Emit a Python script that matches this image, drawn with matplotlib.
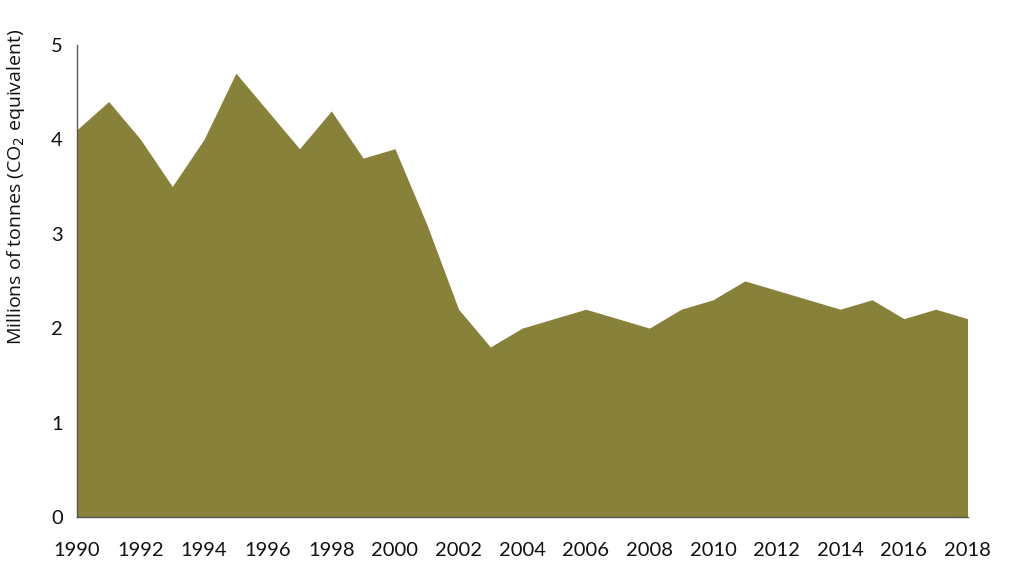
import matplotlib.pyplot as plt

# 排放数据（百万吨二氧化碳当量）
years = list(range(1990, 2019))
emissions = [4.1, 4.4, 4.0, 3.5, 4.0, 4.7, 4.3, 3.9, 4.3, 3.8,
             3.9, 3.1, 2.2, 1.8, 2.0, 2.1, 2.2, 2.1, 2.0, 2.2,
             2.3, 2.5, 2.4, 2.3, 2.2, 2.3, 2.1, 2.2, 2.1]
x_ticks = list(range(1990, 2019, 2))
y_ticks = [0, 1, 2, 3, 4, 5]

plt.rcParams['font.family'] = ['Lato', 'DejaVu Sans']

fig = plt.figure(figsize=(10.11, 5.75), dpi=100)
ax = fig.add_axes([0.076, 0.101, 0.881, 0.821])

ax.fill_between(years, emissions, 0, color='#88813A', linewidth=0)

ax.set_xlim(1990, 2018)
ax.set_ylim(0, 5)
ax.set_xticks(x_ticks)
ax.set_yticks(y_ticks)
ax.tick_params(axis='both', length=0, labelsize=14.5, colors='#111111')
ax.tick_params(axis='x', pad=18)
ax.tick_params(axis='y', pad=10)

ax.set_ylabel('Millions of tonnes (CO$_2$ equivalent)', fontsize=14,
              color='#111111', family=['Open Sans', 'DejaVu Sans'])
ax.yaxis.set_label_coords(-0.056, 0.70)

# 只保留左侧和底部坐标轴
for side in ['top', 'right']:
    ax.spines[side].set_visible(False)
ax.spines['left'].set_color('#555555')
ax.spines['left'].set_linewidth(1)
ax.spines['bottom'].set_color('#555555')
ax.spines['bottom'].set_linewidth(1)

fig.savefig('out.png', dpi=100)
